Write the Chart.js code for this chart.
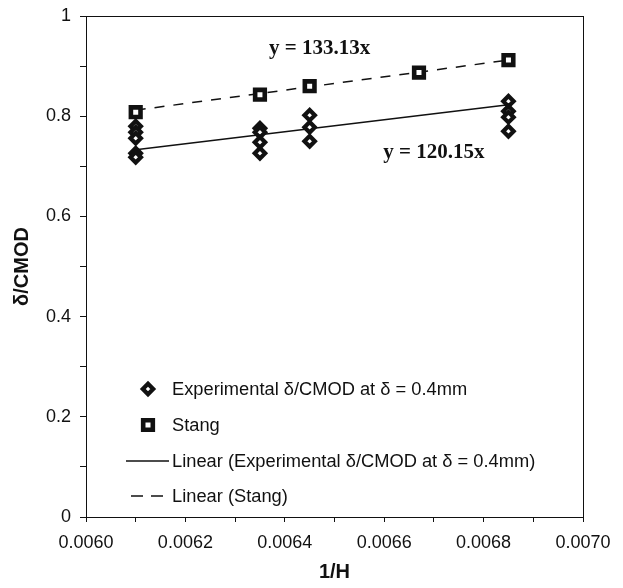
<!DOCTYPE html>
<html>
<head>
<meta charset="utf-8">
<script src="https://cdn.jsdelivr.net/npm/chart.js@4.4.1/dist/chart.umd.min.js"></script>
<style>
  html, body { margin: 0; padding: 0; background: #fff; }
  #wrap { width: 623px; height: 588px; }
</style>
</head>
<body>
<div id="wrap"><canvas id="chart"></canvas></div>
<script>
// data
const expX = [0.0061, 0.0061, 0.0061, 0.0061, 0.0061, 0.00635, 0.00635, 0.00635, 0.00635, 0.00645, 0.00645, 0.00645, 0.00685, 0.00685, 0.00685, 0.00685];
const expY = [0.780, 0.768, 0.756, 0.726, 0.718, 0.776, 0.768, 0.748, 0.726, 0.802, 0.778, 0.750, 0.830, 0.810, 0.798, 0.770];
const stangX = [0.0061, 0.00635, 0.00645, 0.00667, 0.00685];
const stangY = [0.808, 0.843, 0.860, 0.887, 0.912];
const trendX = [0.0061, 0.00685];
const expTrendY = [0.733, 0.823];
const stangTrendY = [0.812, 0.912];
const eqLabels = ['y = 133.13x', 'y = 120.15x'];

const legendNames = [
  'Experimental \u03b4/CMOD at \u03b4 = 0.4mm',
  'Stang',
  'Linear (Experimental \u03b4/CMOD at \u03b4 = 0.4mm)',
  'Linear (Stang)'
];

const INK = '#111';
const SANS = 'Arial, "Liberation Sans", sans-serif';

function pts(xs, ys) {
  return xs.map((x, i) => ({ x: x, y: ys[i] }));
}

// frame, equations and in-plot legend
const decor = {
  id: 'decor',
  afterDraw(chart) {
    const ctx = chart.ctx;
    const a = chart.chartArea;
    const xs = chart.scales.x, ys = chart.scales.y;
    ctx.save();
    ctx.strokeStyle = INK;
    ctx.lineWidth = 1;
    ctx.strokeRect(a.left + 0.5, a.top + 0.5, a.right - a.left, a.bottom - a.top);

    // trend equations
    ctx.fillStyle = INK;
    ctx.font = 'bold 21px "Times New Roman", "Liberation Serif", serif';
    ctx.textAlign = 'center';
    ctx.textBaseline = 'middle';
    ctx.fillText(eqLabels[0], xs.getPixelForValue(0.00647), ys.getPixelForValue(0.935));
    ctx.fillText(eqLabels[1], xs.getPixelForValue(0.00670), ys.getPixelForValue(0.728));

    // legend
    ctx.font = '18.3px ' + SANS;
    ctx.textAlign = 'left';
    const rows = [389, 425, 461, 496];
    const mx = 148, tx = 172;
    rows.forEach((ry, i) => {
      const ds = chart.data.datasets[i];
      if (i < 2) {
        ctx.save();
        ctx.lineWidth = ds.borderWidth;
        ctx.strokeStyle = ds.borderColor;
        ctx.fillStyle = ds.backgroundColor;
        Chart.helpers.drawPoint(ctx, { pointStyle: ds.pointStyle, radius: ds.pointRadius, borderWidth: ds.borderWidth, rotation: 0 }, mx, ry);
        ctx.restore();
      } else {
        ctx.save();
        ctx.strokeStyle = ds.borderColor;
        ctx.lineWidth = ds.borderWidth;
        ctx.setLineDash(ds.borderDash ? [12, 8] : []);
        ctx.beginPath();
        ctx.moveTo(ds.borderDash ? 131 : 126, ry);
        ctx.lineTo(ds.borderDash ? 164 : 169, ry);
        ctx.stroke();
        ctx.restore();
      }
      ctx.fillStyle = INK;
      ctx.fillText(legendNames[i], tx, ry + 1);
    });
    ctx.restore();
  }
};

new Chart(document.getElementById('chart'), {
  type: 'scatter',
  data: {
    datasets: [
      {
        label: legendNames[0],
        data: pts(expX, expY),
        pointStyle: 'rectRot',
        pointRadius: 5.2,
        pointHoverRadius: 5.2,
        borderWidth: 4.2,
        borderColor: INK,
        backgroundColor: '#fff',
        order: 1
      },
      {
        label: legendNames[1],
        data: pts(stangX, stangY),
        pointStyle: 'rect',
        pointRadius: 6.8,
        pointHoverRadius: 6.8,
        borderWidth: 4.6,
        borderColor: INK,
        backgroundColor: '#fff',
        order: 1
      },
      {
        label: legendNames[2],
        data: pts(trendX, expTrendY),
        showLine: true,
        pointRadius: 0,
        borderWidth: 1.5,
        borderColor: INK,
        order: 2
      },
      {
        label: legendNames[3],
        data: pts(trendX, stangTrendY),
        showLine: true,
        pointRadius: 0,
        borderWidth: 1.5,
        borderColor: INK,
        borderDash: [10, 9],
        order: 2
      }
    ]
  },
  options: {
    responsive: true,
    maintainAspectRatio: false,
    animation: false,
    layout: { padding: { top: 16, right: 40, left: 0, bottom: 0 } },
    plugins: {
      legend: { display: false },
      tooltip: { enabled: false }
    },
    scales: {
      x: {
        type: 'linear',
        min: 0.006,
        max: 0.007,
        afterFit: s => { s.height = 71; s.paddingLeft = 0; s.paddingRight = 0; },
        ticks: {
          stepSize: 0.0001,
          autoSkip: false,
          maxRotation: 0,
          color: INK,
          font: { family: SANS, size: 18 },
          padding: 10,
          callback: (v, i) => i % 2 === 0 ? v.toFixed(4) : ''
        },
        grid: { drawOnChartArea: false, drawTicks: true, tickLength: 5, color: INK },
        border: { color: INK },
        title: {
          display: true,
          text: '1/H',
          color: INK,
          font: { family: SANS, size: 20, weight: 'bold' },
          padding: { top: 0, bottom: 4 }
        }
      },
      y: {
        min: 0,
        max: 1,
        afterFit: s => { s.width = 86; s.paddingTop = 0; s.paddingBottom = 0; },
        ticks: {
          stepSize: 0.1,
          autoSkip: false,
          color: INK,
          font: { family: SANS, size: 18 },
          padding: 9,
          callback: (v, i) => i % 2 === 0 ? String(+v.toFixed(1)) : ''
        },
        grid: { drawOnChartArea: false, drawTicks: true, tickLength: 6, color: INK },
        border: { color: INK },
        title: {
          display: true,
          text: '\u03b4/CMOD',
          color: INK,
          font: { family: SANS, size: 20, weight: 'bold' },
          padding: { top: 10, bottom: 0 }
        }
      }
    }
  },
  plugins: [decor]
});
</script>
</body>
</html>
